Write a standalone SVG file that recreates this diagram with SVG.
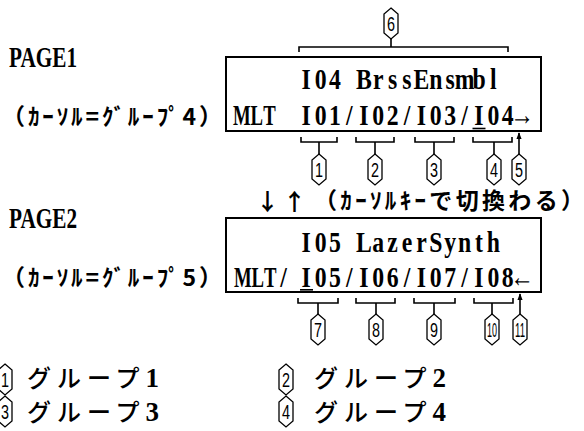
<svg xmlns="http://www.w3.org/2000/svg" width="584" height="431" viewBox="0 0 584 431">
<style>
.box{fill:none;stroke:#000;stroke-width:2}
.mono{font-family:"Liberation Serif",serif;font-weight:bold;font-size:25px;fill:#000;text-anchor:middle}
.pg{font-family:"Liberation Serif",serif;font-weight:bold;font-size:25px;fill:#000}
.jp{font-family:"Noto Sans CJK JP",sans-serif;font-weight:bold;font-size:23px;fill:#000}
.lg{font-family:"Noto Sans CJK JP",sans-serif;font-weight:500;font-size:24px;fill:#000}
.dg{font-family:"Liberation Serif",serif;font-weight:bold;font-size:27px}
.hex{fill:#fff;stroke:#000;stroke-width:1.3}
.num{font-family:"Liberation Sans",sans-serif;font-size:20px;text-anchor:middle;fill:#000}
.br{fill:none;stroke:#000;stroke-width:1.6}
.ul{stroke:#000;stroke-width:1.6}
</style>
<defs>
<path id="hx" class="hex" d="M0,0 L7,6 V25 L0,31 L-7,25 V6 Z"/>
<marker id="ah" viewBox="0 0 8 8" refX="7" refY="4" markerWidth="7" markerHeight="7" orient="auto" markerUnits="userSpaceOnUse">
<path d="M0,1 L8,4 L0,7 Z" fill="#000"/>
</marker>
</defs>

<g id="labels">
<text class="pg" transform="translate(9,67) scale(1,1.21)" x="0" y="0" textLength="68" lengthAdjust="spacingAndGlyphs">PAGE1</text>
<text class="jp" x="2" y="125" textLength="220" lengthAdjust="spacing">（ｶｰｿﾙ=ｸﾞﾙｰﾌﾟ4）</text>
<text class="pg" transform="translate(9,228) scale(1,1.21)" x="0" y="0" textLength="68" lengthAdjust="spacingAndGlyphs">PAGE2</text>
<text class="jp" x="2" y="286" textLength="220" lengthAdjust="spacing">（ｶｰｿﾙ=ｸﾞﾙｰﾌﾟ5）</text>
<text class="jp" x="256" y="210" font-size="24" letter-spacing="4">↓↑</text>
<text class="jp" x="314" y="209" font-size="24" textLength="270" lengthAdjust="spacing">（ｶｰｿﾙｷｰで切換わる）</text>
</g>

<g id="box1">
<rect class="box" x="226" y="57" width="315" height="74"/>
<text class="mono" transform="translate(0,89) scale(0.95,1.21)" y="0" x="322.32 337.47 352.63 367.79 382.95 398.11 413.26 428.42 443.58 458.74 473.89 489.05 504.21 519.37">I04 BrssEnsmbl</text>
<text class="mono" transform="translate(0,125) scale(0.75,1.21)" y="0" x="322.4 342.5 359.2">MLT</text>
<text class="mono" transform="translate(0,125) scale(0.95,1.21)" y="0" x="322.32 337.47 352.63 367.79 382.95 398.11 413.26 428.42 443.58 458.74 473.89 489.05 504.21 519.37 534.53 549.68">I01/I02/I03/I04→</text>
<line class="ul" x1="472.5" y1="128.5" x2="485.5" y2="128.5"/>
</g>

<g id="box2">
<rect class="box" x="226" y="218" width="315" height="74"/>
<text class="mono" transform="translate(0,252) scale(0.95,1.21)" y="0" x="322.32 337.47 352.63 367.79 382.95 398.11 413.26 428.42 443.58 458.74 473.89 489.05 504.21 519.37">I05 LazerSynth</text>
<text class="mono" transform="translate(0,287) scale(0.75,1.21)" y="0" x="323.7 343.8 360.5">MLT</text>
<text class="mono" transform="translate(0,287) scale(0.95,1.21)" y="0" x="298.5 322.32 337.47 352.63 367.79 382.95 398.11 413.26 428.42 443.58 458.74 473.89 489.05 504.21 519.37 534.53 549.68">/I05/I06/I07/I08←</text>
<line class="ul" x1="300" y1="289.8" x2="313" y2="289.8"/>
</g>

<g id="connectors">
<path class="br" d="M299,52 V47 H508 V52 M391,47 V39"/>
<path class="br" d="M301,137 V142 H337 V137 M319,142 V154"/>
<path class="br" d="M356,137 V142 H394 V137 M375,142 V154"/>
<path class="br" d="M415,137 V142 H454 V137 M434,142 V154"/>
<path class="br" d="M473,137 V142 H512 V137 M494,142 V154"/>
<line class="br" x1="519" y1="154" x2="519" y2="133" marker-end="url(#ah)"/>
<path class="br" d="M298,298 V303 H338 V298 M318,303 V314"/>
<path class="br" d="M356,298 V303 H395 V298 M376,303 V314"/>
<path class="br" d="M414,298 V303 H455 V298 M434,303 V314"/>
<path class="br" d="M474,298 V303 H513 V298 M492,303 V314"/>
<line class="br" x1="520" y1="314" x2="520" y2="294" marker-end="url(#ah)"/>
</g>

<g id="n6"><use href="#hx" x="391" y="8"/><text class="num" x="391" y="31" textLength="8" lengthAdjust="spacingAndGlyphs">6</text></g>
<g id="n1"><use href="#hx" x="319" y="154"/><text class="num" x="319" y="177" textLength="8" lengthAdjust="spacingAndGlyphs">1</text></g>
<g id="n2"><use href="#hx" x="375" y="154"/><text class="num" x="375" y="177" textLength="8" lengthAdjust="spacingAndGlyphs">2</text></g>
<g id="n3"><use href="#hx" x="434" y="154"/><text class="num" x="434" y="177" textLength="8" lengthAdjust="spacingAndGlyphs">3</text></g>
<g id="n4"><use href="#hx" x="494" y="154"/><text class="num" x="494" y="177" textLength="8" lengthAdjust="spacingAndGlyphs">4</text></g>
<g id="n5"><use href="#hx" x="519" y="154"/><text class="num" x="519" y="177" textLength="8" lengthAdjust="spacingAndGlyphs">5</text></g>
<g id="n7"><use href="#hx" x="318" y="314"/><text class="num" x="318" y="337" textLength="8" lengthAdjust="spacingAndGlyphs">7</text></g>
<g id="n8"><use href="#hx" x="376" y="314"/><text class="num" x="376" y="337" textLength="8" lengthAdjust="spacingAndGlyphs">8</text></g>
<g id="n9"><use href="#hx" x="434" y="314"/><text class="num" x="434" y="337" textLength="8" lengthAdjust="spacingAndGlyphs">9</text></g>
<g id="n10"><use href="#hx" x="492" y="314"/><text class="num" x="492" y="337" textLength="10" lengthAdjust="spacingAndGlyphs">10</text></g>
<g id="n11"><use href="#hx" x="520" y="314"/><text class="num" x="520" y="337" textLength="10" lengthAdjust="spacingAndGlyphs">11</text></g>

<g id="legend">
<g id="lg1"><use href="#hx" x="5" y="364"/><text class="num" x="5" y="387" textLength="8" lengthAdjust="spacingAndGlyphs">1</text>
<text class="lg" x="27" y="387" textLength="132" lengthAdjust="spacing">グループ<tspan class="dg">1</tspan></text></g>
<g id="lg2"><use href="#hx" x="286" y="364"/><text class="num" x="286" y="387" textLength="8" lengthAdjust="spacingAndGlyphs">2</text>
<text class="lg" x="314" y="387" textLength="132" lengthAdjust="spacing">グループ<tspan class="dg">2</tspan></text></g>
<g id="lg3"><use href="#hx" x="5" y="396"/><text class="num" x="5" y="419" textLength="8" lengthAdjust="spacingAndGlyphs">3</text>
<text class="lg" x="27" y="421" textLength="132" lengthAdjust="spacing">グループ<tspan class="dg">3</tspan></text></g>
<g id="lg4"><use href="#hx" x="286" y="396"/><text class="num" x="286" y="419" textLength="8" lengthAdjust="spacingAndGlyphs">4</text>
<text class="lg" x="314" y="421" textLength="132" lengthAdjust="spacing">グループ<tspan class="dg">4</tspan></text></g>
</g>
</svg>
